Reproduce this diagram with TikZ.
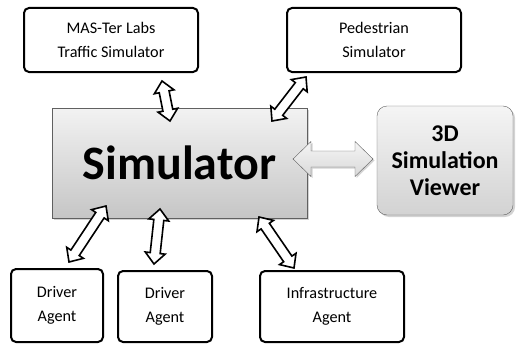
\documentclass[tikz,border=0pt]{standalone}
\usepackage{fontspec}
\setmainfont{Carlito}
\usetikzlibrary{calc,shadows}

\tikzset{
  smallbox/.style={draw, line width=2pt, rounded corners=5pt, align=center,
    inner sep=0pt, font=\fontsize{16.2}{24}\selectfont},
  simbox/.style={draw=gray!75!black, thin, top color=gray!10, bottom color=gray!45,
    inner sep=0pt, drop shadow={shadow xshift=2pt, shadow yshift=-2pt, opacity=0.35}},
  viewbox/.style={simbox, rounded corners=10pt, top color=gray!8, bottom color=gray!35,
    align=center, font=\bfseries\fontsize{24}{27}\selectfont},
  linkstyle/.style={draw, fill=white, line width=1.6pt, line join=miter},
  viewlink/.style={draw=gray!75!black, thin, top color=gray!8, bottom color=gray!30,
    drop shadow={shadow xshift=1.5pt, shadow yshift=-1.5pt, opacity=0.35}}
}

% double block arrow: [style]{start}{end}{shaft half width}{head half width}{head length}
\newcommand{\linkarrow}[6][linkstyle]{%
  \path[#1] (#2)
    -- ($(#2)!#6!(#3)!#5!90:(#3)$) -- ($(#2)!#6!(#3)!#4!90:(#3)$)
    -- ($(#3)!#6!(#2)!#4!-90:(#2)$) -- ($(#3)!#6!(#2)!#5!-90:(#2)$)
    -- (#3)
    -- ($(#3)!#6!(#2)!#5!90:(#2)$) -- ($(#3)!#6!(#2)!#4!90:(#2)$)
    -- ($(#2)!#6!(#3)!#4!-90:(#3)$) -- ($(#2)!#6!(#3)!#5!-90:(#3)$)
    -- cycle;}

\begin{document}
\begin{tikzpicture}[x=1pt, y=-1pt]
  \useasboundingbox (0,0) rectangle (518,345);

  % ==========================================
  % Boxes
  % ==========================================
  \node[smallbox, minimum width=174pt, minimum height=64pt] (mas) at (111,40)
    {MAS-Ter Labs\\Traffic Simulator};
  \node[smallbox, minimum width=174pt, minimum height=64pt] (ped) at (374,40)
    {Pedestrian\\Simulator};

  \node[simbox, minimum width=255pt, minimum height=110pt,
    font=\bfseries\fontsize{48}{50}\selectfont] (sim) at (179.5,163) {Simulator};
  \node[viewbox, minimum width=136pt, minimum height=109pt] (view) at (445,160.5)
    {3D\\Simulation\\Viewer};

  \node[smallbox, minimum width=92pt, minimum height=73pt] (drv1) at (57,305.5)
    {Driver\\Agent};
  \node[smallbox, minimum width=94pt, minimum height=71pt] (drv2) at (165,306.5)
    {Driver\\Agent};
  \node[smallbox, minimum width=144pt, minimum height=71pt] (infra) at (332,306.5)
    {Infrastructure\\Agent};

  % ==========================================
  % Arrow ends
  % ==========================================
  \coordinate (masS)   at (162,81);   \coordinate (simMas)  at (170,121);
  \coordinate (pedS)   at (306,77);   \coordinate (simPed)  at (272,121);
  \coordinate (simV)   at (293,159);  \coordinate (viewW)   at (373,159);
  \coordinate (drv1N)  at (69,262);   \coordinate (simDrv1) at (106,206);
  \coordinate (drv2N)  at (154,264);  \coordinate (simDrv2) at (160,209);
  \coordinate (infraN) at (294,268);  \coordinate (simInf)  at (259,217);

  % ==========================================
  % Arrows
  % ==========================================
  \linkarrow{masS}{simMas}{5pt}{10pt}{11pt}
  \linkarrow{pedS}{simPed}{5pt}{10pt}{11pt}
  \linkarrow{drv1N}{simDrv1}{5pt}{10pt}{11pt}
  \linkarrow{drv2N}{simDrv2}{5pt}{10pt}{11pt}
  \linkarrow{infraN}{simInf}{5pt}{10pt}{11pt}
  \linkarrow[viewlink]{simV}{viewW}{8pt}{17.5pt}{18pt}
\end{tikzpicture}
\end{document}
